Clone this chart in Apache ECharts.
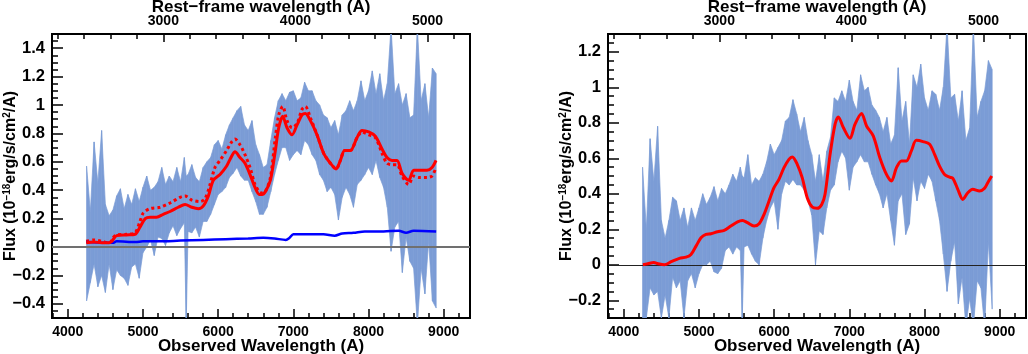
<!DOCTYPE html>
<html>
<head>
<meta charset="utf-8">
<script src="https://cdn.jsdelivr.net/npm/echarts@6/dist/echarts.min.js"></script>
<style>
  html, body { margin: 0; padding: 0; background: #fff; }
  #chart { width: 1028px; height: 354px; }
</style>
</head>
<body>
<div id="chart"></div>
<script>
// observed wavelength grid of the spectrum (A)
var wave = [
  4250, 4300, 4350, 4400, 4450, 4500, 4550, 4600, 4650, 4700,
  4750, 4800, 4850, 4900, 4950, 5000, 5050, 5100, 5150, 5200,
  5250, 5300, 5350, 5400, 5450, 5500, 5550, 5575, 5600, 5650,
  5700, 5750, 5800, 5850, 5900, 5950, 6000, 6050, 6100, 6150,
  6200, 6250, 6300, 6350, 6400, 6450, 6500, 6550, 6600, 6650,
  6700, 6750, 6800, 6850, 6900, 6950, 7000, 7050, 7100, 7150,
  7200, 7250, 7300, 7350, 7400, 7450, 7500, 7550, 7600, 7650,
  7700, 7750, 7800, 7850, 7900, 7950, 8000, 8050, 8100, 8150,
  8200, 8250, 8300, 8350, 8400, 8450, 8500, 8550, 8600, 8650,
  8700, 8750, 8800, 8850, 8900
]
// left panel: noisy spectrum, upper / lower envelope
var specHiL = [
  0.57, 0.25, 0.74, 0.45, 0.82, 0.30, 0.22, 0.26, 0.36, 0.41,
  0.27, 0.37, 0.30, 0.41, 0.32, 0.42, 0.50, 0.40, 0.42, 0.46,
  0.56, 0.44, 0.50, 0.46, 0.56, 0.46, 0.63, 0.50, 0.51, 0.58,
  0.49, 0.46, 0.56, 0.60, 0.63, 0.72, 0.75, 0.69, 0.79, 0.86,
  0.91, 0.96, 0.99, 0.86, 0.82, 0.89, 0.72, 0.65, 0.56, 0.58,
  0.75, 0.91, 1.03, 1.08, 1.03, 1.09, 1.10, 1.03, 1.05, 1.16,
  1.10, 1.10, 1.03, 1.00, 0.93, 0.91, 0.84, 0.89, 0.79, 0.93,
  0.96, 1.03, 0.96, 1.03, 1.17, 1.03, 1.10, 1.24, 1.08, 1.22,
  1.03, 1.15, 1.55, 1.08, 1.15, 1.00, 1.08, 0.91, 0.93, 1.55,
  1.03, 1.15, 0.91, 1.26, 1.22
]
var specLoL = [
  -0.38, -0.25, -0.12, -0.28, -0.20, -0.32, -0.12, -0.30, -0.16, -0.20,
  -0.22, -0.27, -0.14, -0.12, -0.22, -0.04, 0.00, 0.05, -0.06, 0.07,
  0.06, 0.01, 0.10, 0.15, 0.08, 0.13, 0.17, -0.55, 0.11, 0.10,
  0.14, 0.07, 0.18, 0.18, 0.23, 0.30, 0.37, 0.39, 0.42, 0.49,
  0.52, 0.56, 0.50, 0.47, 0.47, 0.39, 0.32, 0.23, 0.23, 0.28,
  0.39, 0.51, 0.61, 0.70, 0.70, 0.61, 0.65, 0.68, 0.65, 0.75,
  0.72, 0.65, 0.61, 0.51, 0.47, 0.39, 0.42, 0.37, 0.19, 0.35,
  0.42, 0.37, 0.28, 0.44, 0.47, 0.51, 0.56, 0.51, 0.61, 0.49,
  0.42, 0.28, -0.03, 0.14, 0.18, -0.18, 0.07, -0.10, -0.15, -0.55,
  -0.15, -0.33, 0.04, -0.38, -0.43
]
// right panel: noisy spectrum, upper / lower envelope
var specHiR = [
  0.55, 0.20, 0.71, 0.47, 0.78, 0.25, 0.15, 0.25, 0.38, 0.36,
  0.25, 0.32, 0.21, 0.32, 0.25, 0.32, 0.40, 0.34, 0.38, 0.44,
  0.36, 0.43, 0.40, 0.45, 0.51, 0.47, 0.55, 0.50, 0.49, 0.62,
  0.45, 0.49, 0.47, 0.51, 0.58, 0.68, 0.62, 0.66, 0.70, 0.81,
  0.83, 0.93, 0.85, 0.75, 0.83, 0.70, 0.62, 0.47, 0.62, 0.47,
  0.64, 0.72, 0.94, 0.92, 0.98, 0.92, 1.04, 0.92, 0.87, 1.07,
  0.98, 1.00, 0.90, 0.87, 0.83, 0.75, 0.83, 0.68, 0.73, 1.11,
  0.81, 0.92, 0.68, 1.07, 1.00, 1.13, 0.94, 0.87, 0.98, 0.96,
  0.87, 1.00, 1.35, 0.94, 0.96, 0.81, 0.98, 0.70, 0.77, 1.35,
  0.83, 0.92, 0.98, 1.15, 1.10
]
var specLoR = [
  -0.30, -0.30, -0.13, -0.17, -0.15, -0.30, -0.17, -0.30, -0.07, -0.13,
  -0.09, -0.30, -0.09, -0.05, -0.13, -0.05, 0.00, 0.00, 0.02, -0.04,
  -0.05, -0.02, 0.08, 0.10, 0.06, 0.10, 0.08, -0.32, 0.10, 0.11,
  0.06, 0.02, 0.00, 0.15, 0.25, 0.32, 0.36, 0.20, 0.40, 0.47,
  0.45, 0.48, 0.45, 0.45, 0.42, 0.36, 0.28, 0.00, 0.19, 0.17,
  0.32, 0.42, 0.45, 0.58, 0.64, 0.60, 0.42, 0.55, 0.58, 0.62,
  0.58, 0.58, 0.51, 0.45, 0.40, 0.32, 0.40, 0.25, 0.11, 0.36,
  0.40, 0.17, 0.23, 0.49, 0.36, 0.47, 0.43, 0.51, 0.47, 0.36,
  0.25, 0.06, -0.15, 0.02, 0.13, -0.22, -0.07, -0.35, -0.19, -0.35,
  -0.09, -0.13, -0.35, 0.13, -0.25
]

// left panel: model (solid red)
var modelWaveL = [4245, 4350, 4450, 4550, 4585, 4650, 4780, 4895, 4960, 5030,
  5094, 5180, 5270, 5360, 5470, 5560, 5650, 5737, 5803, 5870,
  5936, 6025, 6113, 6180, 6224, 6290, 6357, 6424, 6490, 6548,
  6584, 6628, 6695, 6761, 6806, 6859, 6916, 6983, 7050, 7116,
  7160, 7227, 7315, 7404, 7493, 7568, 7626, 7683, 7759, 7847,
  7914, 8003, 8091, 8180, 8246, 8313, 8379, 8446, 8534, 8601,
  8667, 8778, 8845, 8898]
var modelFluxL = [0.03, 0.035, 0.03, 0.03, 0.04, 0.08, 0.085, 0.09, 0.14, 0.2,
  0.21, 0.21, 0.23, 0.25, 0.28, 0.3, 0.28, 0.27, 0.29, 0.36,
  0.47, 0.51, 0.57, 0.64, 0.67, 0.63, 0.59, 0.51, 0.42, 0.37,
  0.37, 0.39, 0.47, 0.68, 0.84, 0.92, 0.84, 0.79, 0.86, 0.93,
  0.94, 0.89, 0.79, 0.66, 0.59, 0.55, 0.61, 0.68, 0.68, 0.77,
  0.82, 0.81, 0.78, 0.69, 0.63, 0.61, 0.61, 0.52, 0.47, 0.54,
  0.54, 0.54, 0.56, 0.61]
// left panel: second model (dotted red)
var model2WaveL = [4245, 4350, 4450, 4550, 4630, 4790, 4895, 4960, 5005, 5094,
  5227, 5360, 5493, 5560, 5650, 5760, 5825, 5892, 5958, 6025,
  6113, 6180, 6224, 6290, 6357, 6424, 6490, 6548, 6584, 6628,
  6695, 6761, 6806, 6859, 6916, 6983, 7050, 7116, 7160, 7227,
  7315, 7404, 7493, 7568, 7626, 7683, 7759, 7847, 7914, 8003,
  8091, 8180, 8246, 8313, 8379, 8446, 8534, 8601, 8667, 8778,
  8845, 8898]
var model2FluxL = [0.04, 0.05, 0.04, 0.03, 0.08, 0.09, 0.1, 0.18, 0.24, 0.27,
  0.28, 0.31, 0.35, 0.36, 0.33, 0.32, 0.34, 0.44, 0.56, 0.61,
  0.68, 0.74, 0.76, 0.72, 0.65, 0.56, 0.44, 0.39, 0.38, 0.39,
  0.49, 0.77, 0.93, 0.99, 0.89, 0.84, 0.87, 0.97, 0.99, 0.91,
  0.79, 0.66, 0.59, 0.55, 0.61, 0.68, 0.68, 0.77, 0.81, 0.79,
  0.77, 0.66, 0.59, 0.58, 0.58, 0.5, 0.44, 0.5, 0.49, 0.49,
  0.5, 0.56]
// left panel: host / continuum component (blue)
var hostWave = [4245, 4500, 4600, 4650, 4900, 5000, 5200, 5500, 5800, 6100,
  6400, 6600, 6750, 6900, 6950, 7000, 7200, 7400, 7550, 7650,
  7800, 7950, 8200, 8400, 8500, 8600, 8900]
var hostFlux = [0.035, 0.03, 0.03, 0.04, 0.035, 0.04, 0.04, 0.045, 0.05, 0.055,
  0.06, 0.065, 0.06, 0.05, 0.065, 0.09, 0.09, 0.09, 0.08, 0.095,
  0.1, 0.11, 0.11, 0.115, 0.1, 0.115, 0.11]

// right panel: model (solid red)
var modelWaveR = [4254, 4320, 4400, 4453, 4541, 4630, 4740, 4828, 4894, 4961,
  5027, 5093, 5159, 5248, 5336, 5424, 5513, 5579, 5645, 5733,
  5800, 5866, 5932, 5998, 6064, 6131, 6197, 6241, 6307, 6373,
  6440, 6506, 6572, 6633, 6677, 6744, 6810, 6854, 6920, 7009,
  7075, 7163, 7229, 7318, 7406, 7494, 7560, 7627, 7693, 7759,
  7825, 7891, 7980, 8068, 8134, 8200, 8267, 8333, 8377, 8443,
  8510, 8576, 8642, 8730, 8797, 8841, 8894]
var modelFluxR = [0.0, 0.006, 0.013, 0.006, 0.0, 0.017, 0.036, 0.043, 0.058, 0.105,
  0.152, 0.171, 0.175, 0.186, 0.194, 0.218, 0.242, 0.25, 0.237, 0.218,
  0.231, 0.284, 0.359, 0.434, 0.481, 0.547, 0.594, 0.607, 0.566, 0.491,
  0.378, 0.325, 0.318, 0.34, 0.397, 0.622, 0.791, 0.833, 0.773, 0.712,
  0.791, 0.852, 0.782, 0.726, 0.603, 0.509, 0.472, 0.547, 0.585, 0.585,
  0.641, 0.701, 0.694, 0.679, 0.622, 0.556, 0.509, 0.494, 0.487, 0.425,
  0.368, 0.406, 0.425, 0.415, 0.43, 0.462, 0.5]

// axes
var redshift = 0.757
var obsMin = 3790, obsMax = 9350
var obsTicks = [4000, 5000, 6000, 7000, 8000, 9000]
var restTicks = [3000, 4000, 5000]
var yTicksL = [-0.4, -0.2, 0, 0.2, 0.4, 0.6, 0.8, 1, 1.2, 1.4]
var yTicksR = [-0.2, 0, 0.2, 0.4, 0.6, 0.8, 1, 1.2]

var FONT = '"Liberation Sans", Arial, Helvetica, sans-serif'
var BAND = '#7b9cd6'

function steps (a, b, d) {
  var out = []
  for (var v = a; v <= b + 1e-9; v += d) out.push(Math.round(v * 1000) / 1000)
  return out
}
function fmt (v) {
  return String(Math.round(v * 10) / 10).replace('-', '\u2212')
}
function plain (v) {
  return String(Math.round(v))
}
function pairs (xs, ys) {
  return xs.map(function (x, i) { return [x, ys[i]] })
}

var labelStyle = { color: '#000', fontFamily: FONT, fontWeight: 'bold' }
var nameStyle = { color: '#000', fontFamily: FONT, fontWeight: 'bold', fontSize: 17, verticalAlign: 'middle' }
var tickLine = { color: '#000', width: 1.5 }

function makeAxes (gi, yMin, yMax, yTicks) {
  var rMin = obsMin / (1 + redshift), rMax = obsMax / (1 + redshift)
  var noLine = { show: false, onZero: false }
  var xAxes = [
    {
      type: 'value', gridIndex: gi, position: 'bottom', min: obsMin, max: obsMax,
      axisLine: noLine, splitLine: { show: false },
      axisTick: { inside: true, length: 9, customValues: obsTicks, lineStyle: tickLine },
      axisLabel: Object.assign({ customValues: obsTicks, formatter: plain, fontSize: 14, margin: 7 }, labelStyle),
      name: 'Observed Wavelength (A)', nameLocation: 'middle', nameGap: 28, nameMoveOverlap: false,
      nameTextStyle: nameStyle
    },
    {
      type: 'value', gridIndex: gi, position: 'bottom', min: obsMin, max: obsMax,
      axisLine: noLine, splitLine: { show: false }, axisLabel: { show: false },
      axisTick: { inside: true, length: 5, customValues: steps(3800, 9200, 200), lineStyle: tickLine }
    },
    {
      type: 'value', gridIndex: gi, position: 'top', min: rMin, max: rMax,
      axisLine: noLine, splitLine: { show: false },
      axisTick: { inside: true, length: 8, customValues: restTicks, lineStyle: tickLine },
      axisLabel: Object.assign({ customValues: restTicks, formatter: plain, fontSize: 14, margin: 6 }, labelStyle),
      name: 'Rest\u2212frame wavelength (A)', nameLocation: 'middle', nameGap: 27, nameMoveOverlap: false,
      nameTextStyle: nameStyle
    },
    {
      type: 'value', gridIndex: gi, position: 'top', min: rMin, max: rMax,
      axisLine: noLine, splitLine: { show: false }, axisLabel: { show: false },
      axisTick: { inside: true, length: 5, customValues: steps(2200, 5200, 200), lineStyle: tickLine }
    }
  ]
  var yAxes = [
    {
      type: 'value', gridIndex: gi, position: 'left', min: yMin, max: yMax,
      axisLine: noLine, splitLine: { show: false },
      axisTick: { inside: true, length: 11, customValues: yTicks, lineStyle: tickLine },
      axisLabel: Object.assign({ customValues: yTicks, formatter: fmt, fontSize: 16.5, margin: 7 }, labelStyle),
      name: '{n|Flux (10}{s|\u221218}{n|erg/s/cm}{s|2}{n|/A)}', nameLocation: 'middle', nameGap: 41, nameMoveOverlap: false,
      nameTextStyle: {
        verticalAlign: 'middle',
        rich: {
          n: { fontFamily: FONT, fontWeight: 'bold', fontSize: 16, color: '#000', lineHeight: 18 },
          s: { fontFamily: FONT, fontWeight: 'bold', fontSize: 10, color: '#000', verticalAlign: 'top', lineHeight: 18 }
        }
      }
    },
    {
      type: 'value', gridIndex: gi, position: 'left', min: yMin, max: yMax,
      axisLine: noLine, splitLine: { show: false }, axisLabel: { show: false },
      axisTick: { inside: true, length: 6, customValues: steps(yMin, yMax, 0.05), lineStyle: tickLine }
    }
  ]
  return { x: xAxes, y: yAxes }
}

// noisy spectrum drawn as a filled band between lower and upper envelopes
function bandSeries (gi, lower, upper) {
  var data = []
  for (var i = 0; i < wave.length - 1; i++) {
    data.push([wave[i], lower[i], upper[i], wave[i + 1], lower[i + 1], upper[i + 1]])
  }
  return {
    type: 'custom', xAxisIndex: gi * 4, yAxisIndex: gi * 2, clip: true, silent: true, z: 1,
    encode: { x: [0, 3], y: [1, 2, 4, 5] },
    data: data,
    renderItem: function (params, api) {
      var pts = [
        api.coord([api.value(0), api.value(2)]),
        api.coord([api.value(3), api.value(5)]),
        api.coord([api.value(3), api.value(4)]),
        api.coord([api.value(0), api.value(1)])
      ]
      return { type: 'polygon', shape: { points: pts }, style: { fill: BAND, stroke: BAND, lineWidth: 0.7 } }
    }
  }
}
function zeroLine (gi, color, width) {
  return {
    type: 'line', xAxisIndex: gi * 4, yAxisIndex: gi * 2, symbol: 'none', silent: true, z: 2,
    data: [[wave[0], 0]], lineStyle: { opacity: 0 },
    markLine: { silent: true, symbol: 'none', label: { show: false }, animation: false,
      data: [{ yAxis: 0 }], lineStyle: { color: color, width: width, type: 'solid', opacity: 1 } }
  }
}
function curve (gi, xs, ys, color, width, type, z) {
  return {
    type: 'line', xAxisIndex: gi * 4, yAxisIndex: gi * 2, symbol: 'none', silent: true, z: z,
    smooth: 0.3, data: pairs(xs, ys), lineStyle: { color: color, width: width, type: type }
  }
}

var axL = makeAxes(0, -0.5, 1.5, yTicksL)
var axR = makeAxes(1, -0.3, 1.3, yTicksR)

var gridBase = { top: 34, width: 418, height: 284, show: true, borderColor: '#000', borderWidth: 2,
  backgroundColor: 'transparent', containLabel: false, outerBoundsMode: 'none' }

var chart = echarts.init(document.getElementById('chart'), null, { renderer: 'canvas' })
chart.setOption({
  animation: false,
  backgroundColor: '#fff',
  grid: [
    Object.assign({ left: 52 }, gridBase),
    Object.assign({ left: 608 }, gridBase)
  ],
  xAxis: axL.x.concat(axR.x),
  yAxis: axL.y.concat(axR.y),
  series: [
    bandSeries(0, specLoL, specHiL),
    zeroLine(0, '#707070', 2),
    curve(0, model2WaveL, model2FluxL, '#ff0000', 3, [3, 3], 3),
    curve(0, hostWave, hostFlux, '#0000ff', 2.5, 'solid', 4),
    curve(0, modelWaveL, modelFluxL, '#ff0000', 3, 'solid', 5),
    bandSeries(1, specLoR, specHiR),
    zeroLine(1, '#222', 1),
    curve(1, modelWaveR, modelFluxR, '#ff0000', 3, 'solid', 5)
  ]
})
</script>
</body>
</html>
